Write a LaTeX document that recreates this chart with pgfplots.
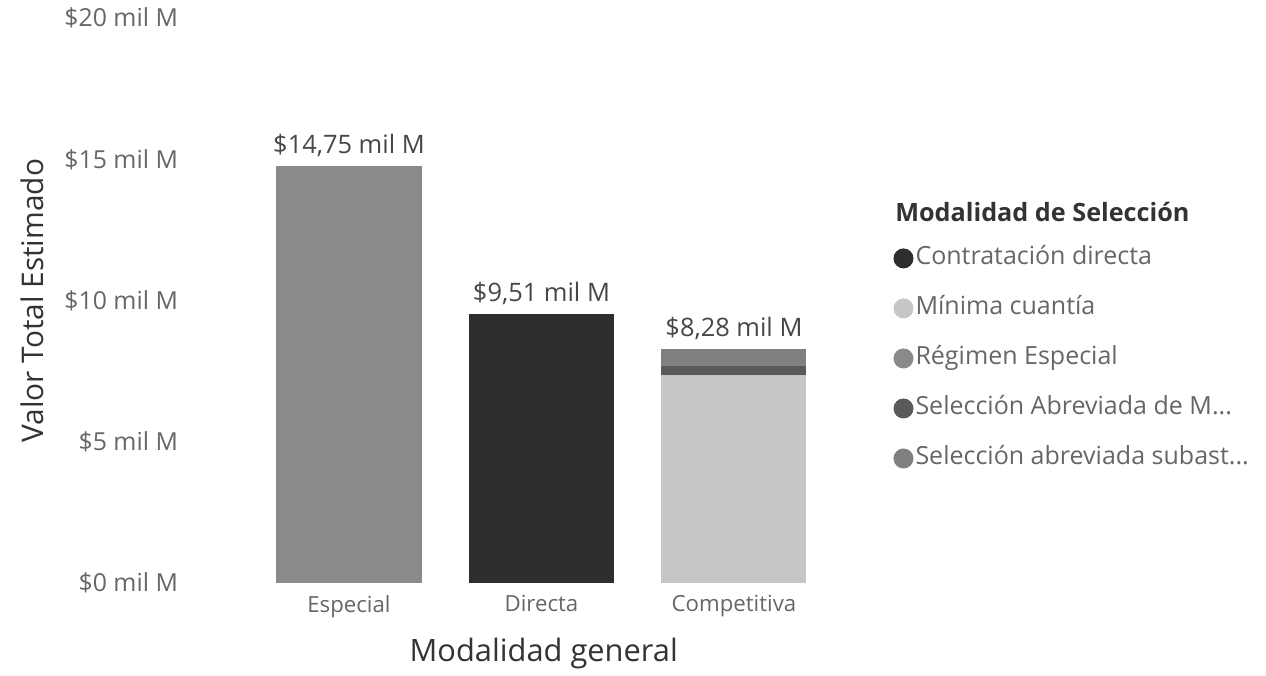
\documentclass[border=0pt]{standalone}
\usepackage{pgfplots}
\pgfplotsset{compat=1.18}
\usepackage{fontspec}
\setmainfont{Open Sans}
\definecolor{cDir}{HTML}{2E2E2E}
\definecolor{cMin}{HTML}{C6C6C6}
\definecolor{cReg}{HTML}{8A8A8A}
\definecolor{cSAM}{HTML}{5A5A5A}
\definecolor{cSub}{HTML}{808080}
\definecolor{tick}{HTML}{666666}
\definecolor{ttl}{HTML}{333333}
\begin{document}
\begin{tikzpicture}
\begin{axis}[
  scale only axis,
  width=317.5pt, height=282.5pt,
  xmin=-0.8, xmax=2.5, ymin=0, ymax=20,
  clip=false,
  ybar stacked, bar width=72.5pt,
  axis line style={draw=none},
  tick style={draw=none},
  xtick={0,1,2},
  xticklabels={Especial,Directa,Competitiva},
  ytick={0,5,10,15,20},
  yticklabels={\$0 mil M,\$5 mil M,\$10 mil M,\$15 mil M,\$20 mil M},
  yticklabel style={font=\fontsize{12.4}{14}\selectfont, text=tick, anchor=east, xshift=-5pt},
  xticklabel style={font=\fontsize{11.1}{13}\selectfont, text=tick, yshift=-2.5pt},
  xlabel={Modalidad general},
  ylabel={Valor Total Estimado},
  xlabel style={font=\fontsize{15.4}{18}\selectfont, text=ttl, at={(rel axis cs:0.549,-0.125)}, anchor=center},
  ylabel style={font=\fontsize{14.9}{18}\selectfont, text=ttl, at={(rel axis cs:-0.2566,0.5)}, anchor=center, rotate=0},
  legend style={draw=none, fill=none, at={(rel axis cs:1.099,0.601)}, anchor=north west,
    font=\fontsize{12.5}{15}\selectfont, text=tick, row sep=10.5pt, inner sep=0pt,
    nodes={inner sep=1pt, text height=9.5pt, text depth=3pt}},
  legend cell align=left,
]
\addplot[fill=cDir, draw=none, legend image code/.code={\fill[cDir] (0pt,0pt) circle (5pt);}] coordinates {(0,0) (1,9.51) (2,0)};
\addlegendentry{Contratación directa}
\addplot[fill=cMin, draw=none, legend image code/.code={\fill[cMin] (0pt,0pt) circle (5pt);}] coordinates {(0,0) (1,0) (2,7.35)};
\addlegendentry{Mínima cuantía}
\addplot[fill=cReg, draw=none, legend image code/.code={\fill[cReg] (0pt,0pt) circle (5pt);}] coordinates {(0,14.75) (1,0) (2,0)};
\addlegendentry{Régimen Especial}
\addplot[fill=cSAM, draw=none, legend image code/.code={\fill[cSAM] (0pt,0pt) circle (5pt);}] coordinates {(0,0) (1,0) (2,0.35)};
\addlegendentry{Selección Abreviada de M...}
\addplot[fill=cSub, draw=none, legend image code/.code={\fill[cSub] (0pt,0pt) circle (5pt);}] coordinates {(0,0) (1,0) (2,0.58)};
\addlegendentry{Selección abreviada subast...}
\node[anchor=south, inner sep=0pt, yshift=4.5pt, font=\fontsize{12.7}{15}\selectfont, text=ttl!90] at (axis cs:0,14.75) {\$14,75 mil M};
\node[anchor=south, inner sep=0pt, yshift=4.5pt, font=\fontsize{12.7}{15}\selectfont, text=ttl!90] at (axis cs:1,9.51) {\$9,51 mil M};
\node[anchor=south, inner sep=0pt, yshift=4.5pt, font=\fontsize{12.7}{15}\selectfont, text=ttl!90] at (axis cs:2,8.28) {\$8,28 mil M};
\node[anchor=west, inner sep=0pt, font=\bfseries\fontsize{12.6}{15}\selectfont, text=ttl] at (axis cs:{(895-349)/192.5},{(583-212)/28.25}) {Modalidad de Selección};
\path (axis cs:-1.813,-3.044) rectangle (axis cs:4.764,20.637);
\end{axis}
\end{tikzpicture}
\end{document}
